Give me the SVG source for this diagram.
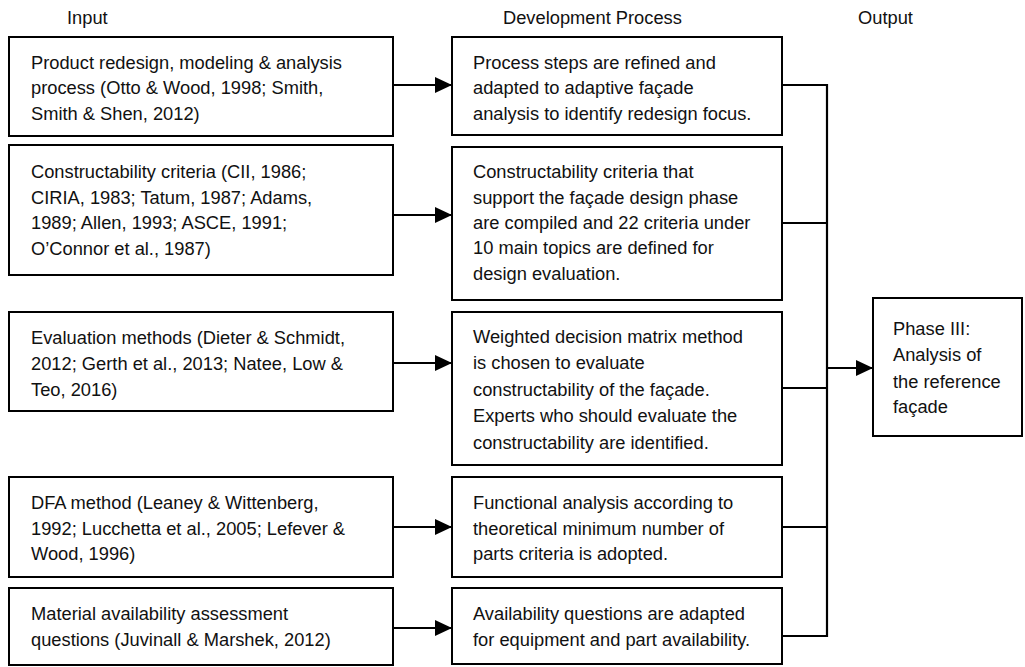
<svg xmlns="http://www.w3.org/2000/svg" width="1025" height="667" viewBox="0 0 1025 667">
<style>
  .box { fill: #ffffff; stroke: #000000; stroke-width: 2; }
  text { font-family: "Liberation Sans", Arial, sans-serif; font-size: 18.3px; fill: #111111; }
  .conn { fill: none; stroke: #000000; stroke-width: 2.2; }
</style>
<defs>
  <marker id="arrow" markerUnits="userSpaceOnUse" markerWidth="18" markerHeight="16" refX="17" refY="8" orient="auto">
    <path d="M0,0 L17,8 L0,16 Z" fill="#000000"/>
  </marker>
</defs>
<rect width="1025" height="667" fill="#ffffff"/>

<g id="headers">
  <text x="67" y="24">Input</text>
  <text x="503" y="24">Development Process</text>
  <text x="858" y="24">Output</text>
</g>

<g id="in1">
  <rect class="box" x="9" y="37" width="384" height="99"/>
  <text x="31" y="69">Product redesign, modeling &amp; analysis</text>
  <text x="31" y="94">process (Otto &amp; Wood, 1998; Smith,</text>
  <text x="31" y="120">Smith &amp; Shen, 2012)</text>
</g>
<g id="in2">
  <rect class="box" x="9" y="145" width="384" height="130"/>
  <text x="31" y="178">Constructability criteria (CII, 1986;</text>
  <text x="31" y="204">CIRIA, 1983; Tatum, 1987; Adams,</text>
  <text x="31" y="229">1989; Allen, 1993; ASCE, 1991;</text>
  <text x="31" y="255">O’Connor et al., 1987)</text>
</g>
<g id="in3">
  <rect class="box" x="9" y="312" width="384" height="99"/>
  <text x="31" y="344">Evaluation methods (Dieter &amp; Schmidt,</text>
  <text x="31" y="370">2012; Gerth et al., 2013; Natee, Low &amp;</text>
  <text x="31" y="396">Teo, 2016)</text>
</g>
<g id="in4">
  <rect class="box" x="9" y="477" width="384" height="100"/>
  <text x="31" y="509">DFA method (Leaney &amp; Wittenberg,</text>
  <text x="31" y="535">1992; Lucchetta et al., 2005; Lefever &amp;</text>
  <text x="31" y="560">Wood, 1996)</text>
</g>
<g id="in5">
  <rect class="box" x="9" y="588" width="384" height="77"/>
  <text x="31" y="620">Material availability assessment</text>
  <text x="31" y="646">questions (Juvinall &amp; Marshek, 2012)</text>
</g>

<g id="dev1">
  <rect class="box" x="452" y="37" width="330" height="98"/>
  <text x="473" y="69">Process steps are refined and</text>
  <text x="473" y="94">adapted to adaptive façade</text>
  <text x="473" y="120">analysis to identify redesign focus.</text>
</g>
<g id="dev2">
  <rect class="box" x="452" y="147" width="330" height="153"/>
  <text x="473" y="178">Constructability criteria that</text>
  <text x="473" y="204">support the façade design phase</text>
  <text x="473" y="229">are compiled and 22 criteria under</text>
  <text x="473" y="254">10 main topics are defined for</text>
  <text x="473" y="280">design evaluation.</text>
</g>
<g id="dev3">
  <rect class="box" x="452" y="312" width="330" height="153"/>
  <text x="473" y="343">Weighted decision matrix method</text>
  <text x="473" y="369">is chosen to evaluate</text>
  <text x="473" y="396">constructability of the façade.</text>
  <text x="473" y="422">Experts who should evaluate the</text>
  <text x="473" y="449">constructability are identified.</text>
</g>
<g id="dev4">
  <rect class="box" x="452" y="477" width="330" height="100"/>
  <text x="473" y="509">Functional analysis according to</text>
  <text x="473" y="535">theoretical minimum number of</text>
  <text x="473" y="560">parts criteria is adopted.</text>
</g>
<g id="dev5">
  <rect class="box" x="452" y="588" width="330" height="76"/>
  <text x="473" y="620">Availability questions are adapted</text>
  <text x="473" y="646">for equipment and part availability.</text>
</g>

<g id="out">
  <rect class="box" x="873" y="298" width="149" height="138"/>
  <text x="893" y="335">Phase III:</text>
  <text x="893" y="361">Analysis of</text>
  <text x="893" y="388">the reference</text>
  <text x="893" y="413">façade</text>
</g>

<g id="connectors">
  <line class="conn" x1="393" y1="85" x2="452" y2="85" marker-end="url(#arrow)"/>
  <line class="conn" x1="393" y1="215" x2="452" y2="215" marker-end="url(#arrow)"/>
  <line class="conn" x1="393" y1="363" x2="452" y2="363" marker-end="url(#arrow)"/>
  <line class="conn" x1="393" y1="527" x2="452" y2="527" marker-end="url(#arrow)"/>
  <line class="conn" x1="393" y1="628" x2="452" y2="628" marker-end="url(#arrow)"/>
  <polyline class="conn" points="782,85 827,85 827,636 782,636"/>
  <line class="conn" x1="782" y1="223" x2="827" y2="223"/>
  <line class="conn" x1="782" y1="388" x2="827" y2="388"/>
  <line class="conn" x1="782" y1="527" x2="827" y2="527"/>
  <line class="conn" x1="827" y1="368" x2="873" y2="368" marker-end="url(#arrow)"/>
</g>
</svg>
